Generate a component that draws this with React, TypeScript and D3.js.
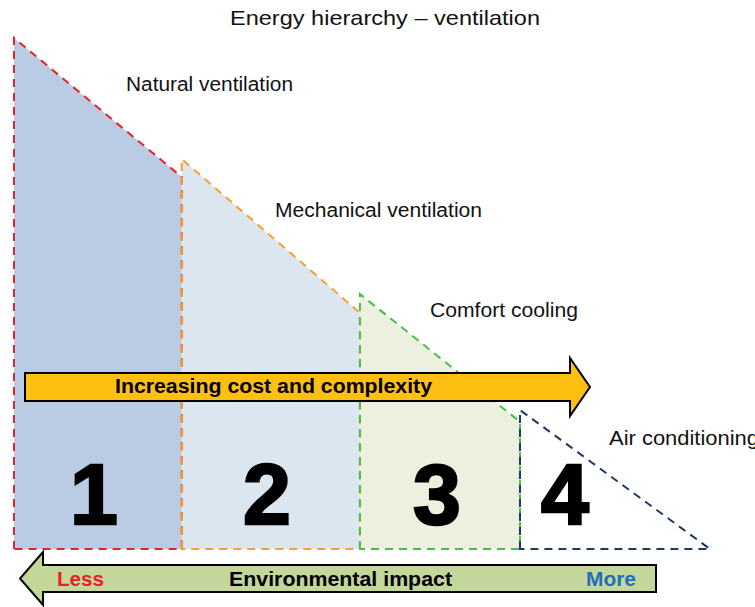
import React from "react";
import * as d3 from "d3";

// ---- data ----
const categories = ["Natural ventilation", "Mechanical ventilation", "Comfort cooling", "Air conditioning"];
const stageNumbers = ["1", "2", "3", "4"];
const stageStart = [0, 24.1, 49.7, 72.7];
const stageEnd = [24.1, 49.7, 72.7, 100];
const startLevel = [100, 76.3, 49.9, 27.2];
const endLevel = [72.8, 46.2, 24.9, 0];
const titleText = "Energy hierarchy \u2013 ventilation";
const costArrowText = "Increasing cost and complexity";
const impactText = ["Less", "Environmental impact", "More"];

// ---- styles / layout ----
const W = 755;
const H = 607;
const fills = ["#b9cce4", "#dce6f1", "#ebf1de", "none"];
const strokes = ["#e8202a", "#f7a12b", "#4cbb4c", "#1f3864"];
const labelPos = [
  [126, 91],
  [275, 217],
  [430, 317],
  [609, 445],
];
const labelLen = [167, 207, 148, 150];
const numberX = [94, 267, 437, 565];
const FONT = "'Liberation Sans', Arial, Helvetica, sans-serif";

export default function App() {
  const x = d3.scaleLinear().domain([0, 100]).range([14, 710]);
  const y = d3.scaleLinear().domain([0, 100]).range([549, 38]);

  const line = d3.line<[number, number]>().x((d) => x(d[0])).y((d) => y(d[1]));

  const shapes = categories.map((c, i) => {
    const pts: [number, number][] =
      endLevel[i] > 0
        ? [
            [stageStart[i], 0],
            [stageStart[i], startLevel[i]],
            [stageEnd[i], endLevel[i]],
            [stageEnd[i], 0],
          ]
        : [
            [stageStart[i], 0],
            [stageStart[i], startLevel[i]],
            [stageEnd[i], 0],
          ];
    return line(pts) + "Z";
  });

  // cost arrow (pointing right)
  const ca = { x0: 25, x1: 570, tip: 590, yt: 373, yb: 401, ht: 358, hb: 416 };
  const cym = (ca.yt + ca.yb) / 2;
  const costPath = `M${ca.x0},${ca.yt}L${ca.x1},${ca.yt}L${ca.x1},${ca.ht}L${ca.tip},${cym}L${ca.x1},${ca.hb}L${ca.x1},${ca.yb}L${ca.x0},${ca.yb}Z`;

  // impact arrow (pointing left)
  const ia = { x0: 656, x1: 43, tip: 20, yt: 565, yb: 592, ht: 552, hb: 605 };
  const iym = (ia.yt + ia.yb) / 2;
  const impactPath = `M${ia.x0},${ia.yt}L${ia.x1},${ia.yt}L${ia.x1},${ia.ht}L${ia.tip},${iym}L${ia.x1},${ia.hb}L${ia.x1},${ia.yb}L${ia.x0},${ia.yb}Z`;

  return (
    <svg
      width={W}
      height={H}
      style={{ position: "absolute", left: 0, top: 0, background: "#fff" }}
      fontFamily={FONT}
    >
      <rect width={W} height={H} fill="#fff" />
      <text x={230} y={25} fontSize={21} fill="#111" textLength={310} lengthAdjust="spacingAndGlyphs">
        {titleText}
      </text>

      {shapes.map((d, i) => (
        <path key={"f" + i} d={d} fill={fills[i]} stroke="none" />
      ))}
      {shapes.map((d, i) => (
        <path
          key={"s" + i}
          d={d}
          fill="none"
          stroke={strokes[i]}
          strokeWidth={2}
          strokeDasharray="8,6"
        />
      ))}

      {categories.map((c, i) => (
        <text
          key={"l" + i}
          x={labelPos[i][0]}
          y={labelPos[i][1]}
          fontSize={20}
          fill="#111"
          textLength={labelLen[i]}
          lengthAdjust="spacingAndGlyphs"
        >
          {c}
        </text>
      ))}

      {stageNumbers.map((n, i) => (
        <text
          key={"n" + i}
          x={numberX[i]}
          y={524}
          textAnchor="middle"
          fontSize={86}
          fontWeight="bold"
          fill="#000"
          stroke="#000"
          strokeWidth={2.5}
        >
          {n}
        </text>
      ))}

      <path d={costPath} fill="#fdbf12" stroke="#000" strokeWidth={2} strokeLinejoin="miter" />
      <text x={115} y={393} fontSize={20} fontWeight="bold" fill="#000" textLength={317} lengthAdjust="spacingAndGlyphs">
        {costArrowText}
      </text>

      <path d={impactPath} fill="#c4d79b" stroke="#000" strokeWidth={2} strokeLinejoin="miter" />
      <text x={57} y={586} fontSize={20} fontWeight="bold" fill="#e8202a" textLength={47} lengthAdjust="spacingAndGlyphs">
        {impactText[0]}
      </text>
      <text x={229} y={586} fontSize={20} fontWeight="bold" fill="#000" textLength={223} lengthAdjust="spacingAndGlyphs">
        {impactText[1]}
      </text>
      <text x={586} y={586} fontSize={20} fontWeight="bold" fill="#1f6fb8" textLength={50} lengthAdjust="spacingAndGlyphs">
        {impactText[2]}
      </text>
    </svg>
  );
}
